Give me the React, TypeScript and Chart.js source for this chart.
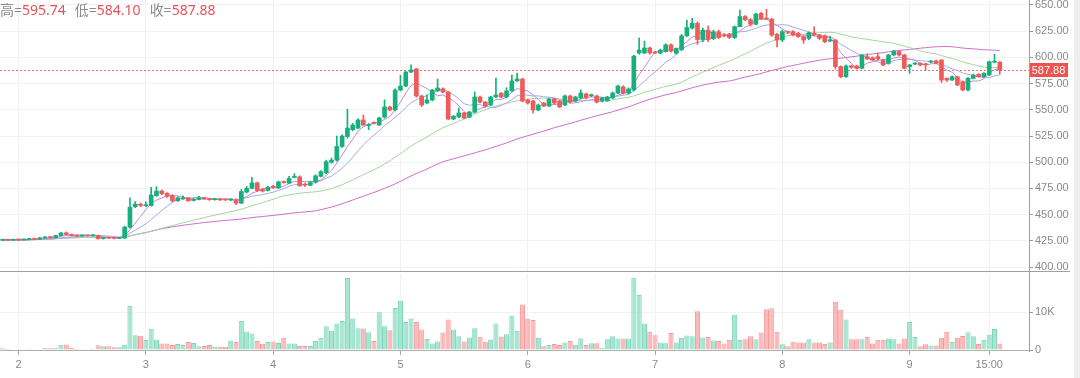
import React, { useEffect, useRef } from "react";
import { Chart, registerables } from "chart.js";
Chart.register(...registerables);

// ---- data (hourly candles, day 1 21:00 -> day 9 17:00) ----
const START_DAY = 1;
const START_HOUR = 21;

const opens = [
  425.5, 425.8, 425.6, 426.0, 425.8, 426.2, 426.8, 426.5, 427.8, 428.5,
  428.0, 430.0, 432.5, 431.0, 430.0, 429.5, 430.0, 429.8, 430.2, 427.0,
  427.8, 427.5, 427.3, 427.6, 438.0, 457.5, 460.0, 458.5, 458.5, 468.0,
  472.5, 470.3, 468.0, 463.2, 465.0, 466.0, 463.5, 464.5, 466.0, 465.0,
  464.2, 465.0, 464.5, 464.0, 464.0, 461.0, 471.5, 475.0, 480.3, 474.0,
  473.0, 477.0, 475.5, 481.5, 480.0, 485.5, 486.0, 479.0, 478.0, 481.0,
  486.5, 490.0, 500.0, 502.0, 515.0, 524.5, 531.0, 532.6, 540.3, 535.0,
  538.0, 535.5, 543.0, 552.7, 549.8, 568.9, 572.7, 586.0, 588.9, 563.2,
  556.5, 559.4, 568.0, 570.0, 567.0, 541.2, 543.1, 547.0, 543.0, 547.9,
  562.2, 557.4, 554.6, 562.2, 565.9, 562.2, 568.0, 577.5, 579.4, 559.4,
  558.4, 549.8, 556.5, 553.6, 560.3, 558.4, 554.6, 563.2, 558.4, 561.3,
  565.1, 563.5, 563.2, 558.4, 558.5, 561.3, 566.0, 571.8, 566.0, 568.9,
  604.2, 604.2, 609.0, 605.1, 604.2, 605.5, 612.0, 604.0, 607.5, 620.5,
  628.0, 632.5, 617.0, 626.0, 618.0, 624.5, 621.5, 622.0, 619.0, 629.3,
  639.0, 636.0, 631.6, 642.0, 637.5, 636.6, 622.0, 616.6, 624.0, 624.6,
  623.0, 619.8, 618.2, 623.0, 621.4, 620.7, 615.6, 616.6, 591.2, 581.6,
  592.0, 591.8, 589.6, 600.7, 599.7, 600.7, 597.5, 594.3, 602.3, 605.5,
  602.3, 591.2, 593.6, 594.3, 593.8, 595.5, 596.6, 597.5, 580.0, 578.4,
  581.6, 576.8, 568.9, 580.0, 583.8, 581.6, 583.2, 595.4, 595.6,
];
const highs = [
  426.5, 426.3, 426.4, 426.5, 426.6, 427.2, 427.1, 428.3, 429.0, 429.0,
  430.5, 433.0, 433.5, 431.5, 430.4, 430.4, 430.3, 430.8, 430.5, 428.2,
  428.1, 427.9, 428.0, 439.0, 466.0, 462.5, 461.0, 462.3, 476.0, 476.7,
  473.5, 471.0, 469.0, 467.0, 468.0, 466.5, 465.5, 467.7, 466.5, 465.5,
  465.5, 465.5, 465.0, 465.0, 465.0, 474.0, 477.0, 485.6, 481.0, 475.0,
  477.0, 478.0, 482.0, 482.0, 486.5, 489.0, 487.0, 480.0, 482.0, 488.0,
  492.0, 502.0, 504.0, 525.0, 526.0, 550.5, 537.0, 541.5, 545.0, 537.0,
  538.5, 543.0, 559.5, 553.5, 570.0, 583.0, 587.0, 593.0, 589.5, 564.0,
  564.0, 569.5, 579.4, 571.0, 567.5, 544.5, 551.7, 547.5, 548.5, 567.0,
  563.0, 558.0, 563.0, 580.3, 566.5, 571.0, 583.2, 585.1, 580.0, 560.0,
  559.0, 555.5, 557.0, 561.0, 561.0, 559.0, 564.0, 564.0, 563.0, 569.0,
  566.0, 565.0, 564.0, 562.0, 563.0, 567.0, 573.5, 573.0, 571.0, 602.0,
  618.5, 615.6, 610.0, 606.0, 608.0, 613.0, 613.0, 609.0, 622.0, 635.7,
  637.3, 634.0, 628.0, 630.0, 626.0, 626.0, 623.0, 623.0, 630.0, 645.2,
  640.0, 637.0, 642.0, 643.0, 646.0, 637.0, 623.0, 626.0, 625.0, 625.5,
  624.0, 620.5, 624.5, 629.3, 622.0, 621.5, 619.8, 617.0, 592.0, 593.0,
  592.5, 592.5, 603.0, 603.5, 600.5, 603.9, 598.5, 603.0, 606.5, 606.5,
  603.0, 593.3, 595.0, 595.0, 594.5, 597.0, 597.5, 598.0, 580.5, 582.5,
  582.0, 577.5, 581.0, 584.0, 584.5, 585.5, 596.5, 602.9, 595.74,
];
const lows = [
  425.0, 425.2, 425.3, 425.4, 425.5, 425.9, 426.1, 426.2, 427.4, 427.6,
  427.7, 429.6, 430.6, 429.6, 429.0, 429.1, 429.3, 429.5, 426.5, 426.6,
  427.1, 426.9, 427.0, 427.2, 437.0, 456.5, 457.5, 457.5, 458.0, 467.5,
  469.0, 466.5, 462.0, 462.5, 464.5, 462.5, 463.0, 464.0, 464.5, 463.5,
  463.8, 463.5, 463.4, 463.2, 459.5, 460.5, 470.5, 474.5, 472.0, 471.5,
  472.5, 475.0, 475.0, 480.0, 479.5, 485.0, 477.0, 477.0, 477.5, 480.0,
  486.0, 489.0, 499.0, 501.0, 514.0, 523.0, 530.0, 532.0, 535.0, 531.0,
  536.5, 535.0, 542.0, 549.0, 549.0, 568.0, 572.0, 585.5, 562.0, 553.0,
  555.5, 558.5, 567.5, 566.0, 540.5, 540.5, 542.5, 541.5, 542.5, 547.0,
  556.5, 552.5, 554.0, 561.5, 561.5, 561.5, 567.5, 577.0, 557.5, 555.5,
  546.9, 549.0, 553.0, 553.0, 555.5, 552.0, 554.0, 556.5, 557.5, 560.5,
  560.5, 562.5, 556.5, 557.5, 558.0, 560.5, 565.5, 565.0, 565.0, 568.0,
  603.0, 603.5, 603.0, 603.5, 603.5, 605.0, 605.0, 603.0, 606.5, 620.0,
  627.0, 612.5, 615.0, 615.0, 617.0, 618.0, 619.5, 618.0, 618.0, 629.0,
  635.0, 630.0, 631.0, 636.0, 636.0, 620.0, 610.0, 615.0, 622.5, 620.5,
  619.0, 613.4, 617.0, 620.5, 617.0, 614.0, 615.0, 589.0, 580.5, 581.0,
  589.5, 589.0, 589.0, 598.0, 597.0, 597.5, 592.0, 593.5, 601.5, 601.5,
  589.0, 584.8, 593.0, 592.0, 588.0, 595.0, 594.0, 576.0, 577.0, 578.0,
  573.0, 568.0, 568.0, 579.5, 581.0, 581.0, 582.5, 594.8, 584.1,
];
const closes = [
  425.8, 425.6, 426.0, 425.8, 426.2, 426.8, 426.5, 427.8, 428.5, 428.0,
  430.0, 432.5, 431.0, 430.0, 429.5, 430.0, 429.8, 430.2, 427.0, 427.8,
  427.5, 427.3, 427.6, 438.0, 457.0, 460.0, 458.8, 459.5, 468.7, 472.5,
  470.0, 467.5, 463.2, 466.0, 466.0, 463.2, 464.5, 466.0, 465.0, 464.2,
  465.0, 464.0, 464.0, 464.3, 461.0, 472.0, 475.0, 480.3, 473.0, 472.5,
  476.0, 476.0, 481.2, 480.5, 484.5, 486.5, 477.5, 478.0, 480.5, 487.0,
  491.0, 500.5, 502.0, 515.0, 525.0, 532.6, 535.5, 540.3, 535.5, 536.0,
  537.0, 542.2, 552.7, 549.8, 568.9, 572.7, 586.0, 588.0, 563.2, 554.6,
  559.4, 568.9, 570.8, 567.0, 541.2, 544.0, 547.0, 542.2, 547.9, 562.2,
  557.4, 553.6, 562.2, 564.1, 562.2, 568.0, 577.5, 579.4, 558.4, 556.5,
  549.8, 554.6, 553.6, 560.3, 556.5, 552.7, 563.2, 557.4, 562.2, 566.0,
  561.3, 564.1, 557.4, 561.3, 562.2, 566.0, 572.7, 566.0, 569.8, 601.3,
  607.0, 609.0, 604.2, 604.2, 607.0, 612.0, 606.0, 608.5, 620.5, 628.5,
  632.5, 617.0, 626.0, 617.0, 624.5, 619.0, 620.5, 619.0, 629.3, 639.0,
  636.0, 631.6, 641.4, 636.6, 636.5, 621.4, 616.6, 624.6, 623.9, 621.4,
  619.8, 616.6, 623.6, 621.4, 618.2, 615.0, 616.8, 591.2, 581.6, 591.8,
  590.5, 589.6, 602.3, 598.5, 597.5, 598.5, 592.7, 602.3, 606.1, 602.3,
  589.6, 592.8, 594.5, 592.7, 593.0, 596.3, 594.3, 578.4, 578.4, 581.6,
  573.7, 568.9, 580.0, 583.2, 581.6, 584.8, 595.9, 596.3, 587.88,
];
const volumes = [
  435, 260, 175, 100, 175, 350, 175, 175, 610, 435,
  435, 1390, 1480, 520, 260, 90, 90, 350, 1220, 960,
  960, 700, 700, 1390, 11650, 3900, 3740, 2610, 5570, 2780,
  1740, 1740, 1300, 1570, 1300, 2090, 1830, 960, 1040, 1300,
  870, 870, 870, 2430, 2090, 7650, 4870, 4350, 2350, 1650,
  2090, 2260, 1830, 3220, 1740, 1740, 1040, 1040, 1040, 2350,
  3220, 6260, 5040, 6960, 7650, 18960, 8260, 5740, 5650, 4700,
  2350, 9910, 6260, 5220, 11040, 12960, 7390, 8260, 7390, 5390,
  2870, 1740, 2260, 4610, 8000, 5390, 3650, 2260, 3300, 5740,
  3480, 2170, 2780, 6960, 3570, 4170, 9040, 5040, 12000, 8200,
  7900, 3200, 1000, 1300, 1600, 1300, 2000, 2400, 1400, 3100,
  1300, 1800, 1800, 600, 2800, 3600, 3000, 3000, 3000, 19000,
  14500, 7000, 4800, 3900, 2000, 1800, 4500, 2000, 3200, 3800,
  3600, 10200, 3300, 3400, 2500, 2400, 1700, 2700, 9300, 2600,
  2800, 3600, 2800, 4600, 10700, 11000, 4800, 1500, 1000, 2200,
  2000, 2000, 2800, 2000, 2000, 1600, 2000, 12700, 10600, 8000,
  2800, 2800, 2800, 3400, 1700, 2700, 2700, 3000, 2800, 1700,
  3000, 7400, 3400, 1000, 1500, 1200, 1200, 3200, 4800, 2200,
  3200, 3700, 4700, 3600, 1600, 2700, 4000, 5500, 1700,
];
const priceTicks = [400, 425, 450, 475, 500, 525, 550, 575, 600, 625, 650];
const volumeTicks = [0, 10000];
const maPeriods = [5, 10, 30, 60];
const RIGHT_PAD_SLOTS = 5;

// ---- derived ----
const categories: string[] = closes.map((_, i) => {
  const t = START_HOUR + i;
  const d = START_DAY + Math.floor(t / 24);
  const h = t % 24;
  return `${d} ${String(h).padStart(2, "0")}:00`;
});
const allLabels: string[] = [...categories, ...Array(RIGHT_PAD_SLOTS).fill("")];
const tickText = (cat: string): string => {
  if (!cat) return "";
  const [d, hm] = cat.split(" ");
  if (hm === "00:00") return d;
  if (cat === "9 15:00") return "15:00";
  return "";
};
const sma = (vals: number[], n: number) =>
  vals.map((_, i) => {
    const w = vals.slice(Math.max(0, i - n + 1), i + 1);
    return w.reduce((a, b) => a + b, 0) / w.length;
  });

const UP = "#17b07c";
const DOWN = "#ef5a5a";
const UP_VOL = "#a4e6d0";
const UP_VOL_B = "#7fd5b9";
const DOWN_VOL = "#fbb9b9";
const DOWN_VOL_B = "#f39c9c";
const MA_COLORS = ["#c48ad6", "#a3a9e8", "#a3d69c", "#d06ccd"];
const GRID = "#f2f2f2";
const AXIS_TEXT = "#8a8a8a";
const FONT = '"Liberation Sans", Arial, sans-serif';

const isUp = closes.map((c, i) => c >= opens[i]);
const lastIdx = closes.length - 1;
const PRICE_MIN = 400 - 5 / 1.048;
const PRICE_MAX = 650 + 5 / 1.048;

const lastPricePlugin = {
  id: "lastPrice",
  beforeDatasetsDraw(chart: any) {
    const { ctx, chartArea, scales } = chart;
    const py = Math.round(scales.y.getPixelForValue(closes[lastIdx])) + 0.5;
    ctx.save();
    ctx.strokeStyle = "#f07070";
    ctx.lineWidth = 1;
    ctx.setLineDash([2, 2]);
    ctx.beginPath();
    ctx.moveTo(chartArea.left, py);
    ctx.lineTo(chartArea.right, py);
    ctx.stroke();
    ctx.restore();
  },
  afterDraw(chart: any) {
    const { ctx, chartArea, scales } = chart;
    const py = Math.round(scales.y.getPixelForValue(closes[lastIdx]));
    const x = chartArea.right;
    ctx.save();
    ctx.fillStyle = "#ef5350";
    ctx.fillRect(x, py - 7, 39, 14);
    ctx.fillStyle = "#ffffff";
    ctx.font = `11px ${FONT}`;
    ctx.textAlign = "center";
    ctx.textBaseline = "middle";
    ctx.fillText(closes[lastIdx].toFixed(2), x + 19.5, py + 0.5);
    ctx.restore();
  },
};

export default function App() {
  const topRef = useRef<HTMLCanvasElement>(null);
  const volRef = useRef<HTMLCanvasElement>(null);

  useEffect(() => {
    document.body.style.margin = "0";
    const gridColorFor = (ctx: any, col: string) =>
      tickText(allLabels[ctx.index] || "") ? col : "rgba(0,0,0,0)";

    const top = new Chart(topRef.current as HTMLCanvasElement, {
      type: "bar",
      data: {
        labels: allLabels,
        datasets: [
          {
            type: "bar",
            label: "body",
            data: opens.map((o, i) => [Math.min(o, closes[i]), Math.max(o, closes[i])]) as any,
            backgroundColor: isUp.map((u) => (u ? UP : DOWN)),
            barThickness: 4,
            minBarLength: 1,
            grouped: false,
            borderWidth: 0,
            order: 0,
          } as any,
          {
            type: "bar",
            label: "wick",
            data: highs.map((h, i) => [lows[i], h]) as any,
            backgroundColor: isUp.map((u) => (u ? UP : DOWN)),
            barThickness: 1,
            grouped: false,
            borderWidth: 0,
            order: 1,
          } as any,
          ...maPeriods.map((p, k) => ({
            type: "line" as const,
            label: `MA${p}`,
            data: sma(closes, p),
            borderColor: MA_COLORS[k],
            borderWidth: 1,
            pointRadius: 0,
            tension: 0,
            order: 2 + k,
          })),
        ],
      },
      options: {
        responsive: false,
        animation: false,
        events: [],
        layout: { padding: 0 },
        plugins: { legend: { display: false }, tooltip: { enabled: false } },
        scales: {
          x: {
            type: "category",
            offset: true,
            grid: { offset: false, drawTicks: false, color: (c: any) => gridColorFor(c, GRID) },
            border: { display: false },
            ticks: { display: false, autoSkip: false },
            afterFit: (s: any) => {
              s.height = 0;
              s.paddingLeft = 0;
              s.paddingRight = 0;
            },
          },
          y: {
            position: "right",
            min: PRICE_MIN,
            max: PRICE_MAX,
            afterBuildTicks: (s: any) => {
              s.ticks = priceTicks.map((v) => ({ value: v }));
            },
            afterFit: (s: any) => {
              s.width = 51;
              s.paddingTop = 0;
              s.paddingBottom = 0;
            },
            grid: { color: GRID, tickColor: "#9a9a9a", tickLength: 4 },
            border: { display: false },
            ticks: {
              color: AXIS_TEXT,
              padding: 2,
              font: { size: 11, family: FONT },
              callback: (v: any) => Number(v).toFixed(2),
            },
          },
        },
      } as any,
      plugins: [lastPricePlugin],
    });

    const vol = new Chart(volRef.current as HTMLCanvasElement, {
      type: "bar",
      data: {
        labels: allLabels,
        datasets: [
          {
            label: "volume",
            data: volumes,
            backgroundColor: isUp.map((u) => (u ? UP_VOL : DOWN_VOL)),
            borderColor: isUp.map((u) => (u ? UP_VOL_B : DOWN_VOL_B)),
            borderWidth: 1,
            barPercentage: 1,
            categoryPercentage: 0.96,
          },
        ],
      },
      options: {
        responsive: false,
        animation: false,
        events: [],
        layout: { padding: { top: 2, left: 0, right: 0, bottom: 0 } },
        plugins: { legend: { display: false }, tooltip: { enabled: false } },
        scales: {
          x: {
            type: "category",
            offset: true,
            grid: {
              offset: false,
              color: (c: any) => gridColorFor(c, GRID),
              tickColor: (c: any) => gridColorFor(c, "#a8a8a8"),
              tickLength: 5,
            },
            border: { display: true, color: "#b0b0b0" },
            ticks: {
              autoSkip: false,
              maxRotation: 0,
              minRotation: 0,
              padding: 3,
              color: AXIS_TEXT,
              font: { size: 11, family: FONT },
              callback: (_v: any, i: number) => tickText(allLabels[i] || ""),
            },
            afterFit: (s: any) => {
              s.height = 28;
              s.paddingLeft = 0;
              s.paddingRight = 0;
            },
          },
          y: {
            position: "right",
            min: 0,
            max: 20000,
            afterBuildTicks: (s: any) => {
              s.ticks = volumeTicks.map((v) => ({ value: v }));
            },
            afterFit: (s: any) => {
              s.width = 51;
              s.paddingTop = 0;
              s.paddingBottom = 0;
            },
            grid: { color: GRID, tickColor: "#9a9a9a", tickLength: 4 },
            border: { display: false },
            ticks: {
              color: AXIS_TEXT,
              padding: 2,
              font: { size: 11, family: FONT },
              callback: (v: any) => (Number(v) === 0 ? "0" : `${Number(v) / 1000}K`),
            },
          },
        },
      } as any,
    });

    return () => {
      top.destroy();
      vol.destroy();
    };
  }, []);

  const lbl = { color: "#8c8c8c" };
  const val = { color: "#e5535d", marginRight: 9 };

  return (
    <div style={{ position: "relative", width: 1080, height: 378, overflow: "hidden", background: "#fff" }}>
      <canvas ref={topRef} width={1080} height={272} style={{ position: "absolute", left: 0, top: 0 }} />
      <canvas ref={volRef} width={1080} height={106} style={{ position: "absolute", left: 0, top: 272 }} />
      <div style={{ position: "absolute", left: 0, top: 271, width: 1070, height: 1, background: "#a0a0a0" }} />
      <div style={{ position: "absolute", left: 1029, top: 0, width: 1, height: 352, background: "#a0a0a0" }} />
      <div style={{ position: "absolute", left: 1074, top: 0, width: 6, height: 378, background: "#eeeeee" }} />
      <div
        style={{
          position: "absolute",
          left: 0,
          top: 0,
          fontFamily: '"Noto Sans", "Noto Sans CJK SC", sans-serif',
          fontSize: 14,
          lineHeight: "20px",
          whiteSpace: "nowrap",
        }}
      >
        <span style={lbl}>高=</span>
        <span style={val}>{highs[lastIdx].toFixed(2)}</span>
        <span style={lbl}>低=</span>
        <span style={val}>{lows[lastIdx].toFixed(2)}</span>
        <span style={lbl}>收=</span>
        <span style={val}>{closes[lastIdx].toFixed(2)}</span>
      </div>
    </div>
  );
}
